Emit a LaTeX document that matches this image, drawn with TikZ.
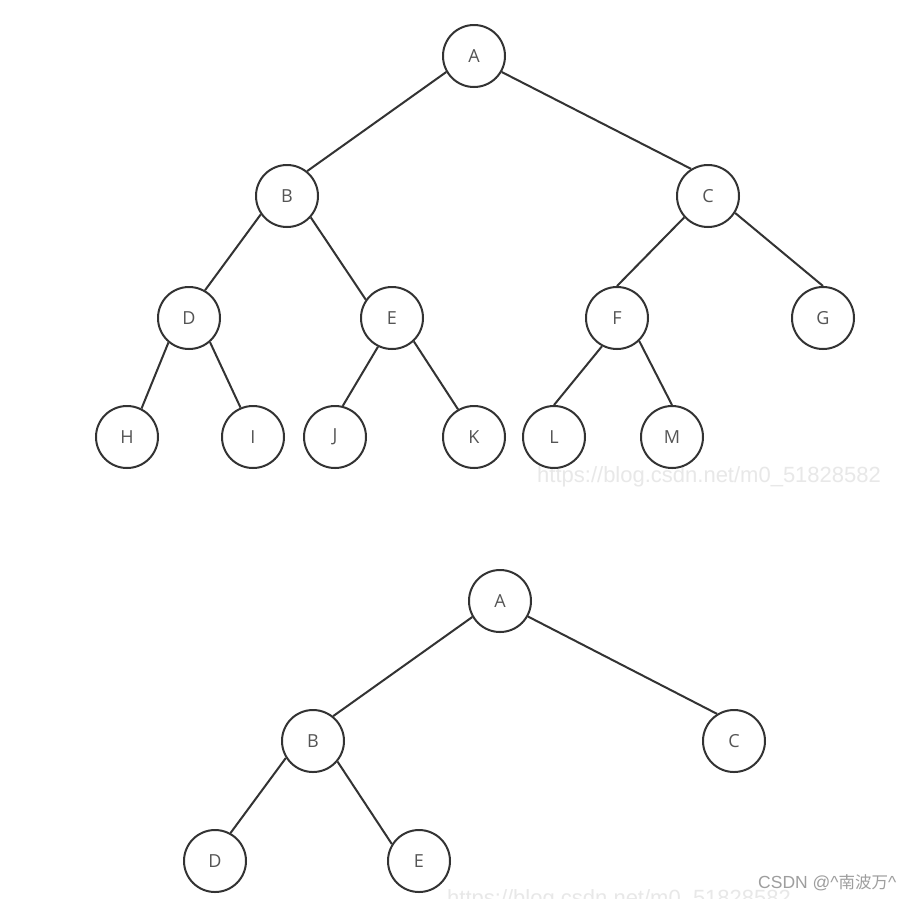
\documentclass[tikz,border=0pt]{standalone}
\usepackage{fontspec}
\setmainfont{Open Sans}
\newfontfamily\wmfont{Liberation Sans}
\newfontfamily\cjk{Noto Sans CJK SC}
\definecolor{ln}{HTML}{333333}
\definecolor{tx}{HTML}{555555}
\definecolor{wm}{HTML}{E8E8E8}
\definecolor{wm2}{HTML}{9E9E9E}
\begin{document}
\begin{tikzpicture}[x=1pt,y=-1pt,
  tnode/.style={circle,draw=ln,line width=2pt,minimum size=62pt,inner sep=0pt,fill=white,
    font=\fontsize{18}{18}\selectfont,text=tx},
  edge/.style={draw=ln,line width=2pt},
  wmtext/.style={text=wm,font=\wmfont\fontsize{22}{22}\selectfont,anchor=base west,inner sep=0pt}]
\useasboundingbox (0,0) rectangle (902,898);
\fill[white] (0,0) rectangle (902,898);
\begin{scope}
\clip (0,0) rectangle (902,898);
\node[wmtext] (w1) at (537,482) {https://blog.csdn.net/m0\_51828582};
\node[wmtext] (w2) at (447,905) {https://blog.csdn.net/m0\_51828582};
\node[text=wm2,font=\wmfont\fontsize{17.5}{17.5}\selectfont,anchor=base west,inner sep=0pt] (w3) at (758,888) {CSDN @\^{}{\cjk\fontsize{16.5}{16.5}\selectfont 南波万}\^{}};
\end{scope}
% top tree
\node[tnode] (A) at (474,56) {A};
\node[tnode] (B) at (287,196) {B};
\node[tnode] (C) at (708,196) {C};
\node[tnode] (D) at (189,318) {D};
\node[tnode] (E) at (392,318) {E};
\node[tnode] (F) at (617,318) {F};
\node[tnode] (G) at (823,318) {G};
\node[tnode] (H) at (127,437) {H};
\node[tnode] (I) at (253,437) {I};
\node[tnode] (J) at (335,437) {J};
\node[tnode] (K) at (474,437) {K};
\node[tnode] (L) at (554,437) {L};
\node[tnode] (M) at (672,437) {M};
\draw[edge] (A.-150)--(B.51);
\draw[edge] (A.-30)--(C.122);
\draw[edge] (B.-145)--(D.60);
\draw[edge] (B.-42)--(E.145);
\draw[edge] (C.-138)--(F.90);
\draw[edge] (C.-32)--(G.90);
\draw[edge] (D.-130)--(H.63);
\draw[edge] (D.-49)--(I.113);
\draw[edge] (E.-116)--(J.76);
\draw[edge] (E.-47)--(K.120);
\draw[edge] (F.-118)--(L.90);
\draw[edge] (F.-46)--(M.90);
% bottom tree
\node[tnode] (A2) at (500,601) {A};
\node[tnode] (B2) at (313,741) {B};
\node[tnode] (C2) at (734,741) {C};
\node[tnode] (D2) at (215,861) {D};
\node[tnode] (E2) at (419,861) {E};
\draw[edge] (A2.-150)--(B2.51);
\draw[edge] (A2.-29)--(C2.122);
\draw[edge] (B2.-148)--(D2.61);
\draw[edge] (B2.-40)--(E2.148);
\end{tikzpicture}
\end{document}
